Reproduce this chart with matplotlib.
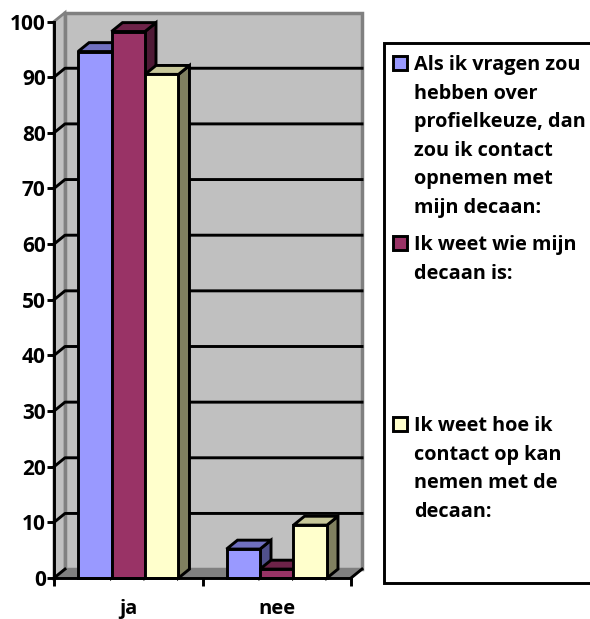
import matplotlib
matplotlib.use("Agg")
import matplotlib.pyplot as plt
from matplotlib.patches import Polygon, Rectangle

categories = ["ja", "nee"]
vragen = [94.6, 5.2]
wie = [98.2, 1.6]
hoe = [90.5, 9.5]
y_ticks = [0, 10, 20, 30, 40, 50, 60, 70, 80, 90, 100]

legend_labels = [
    "Als ik vragen zou\nhebben over\nprofielkeuze, dan\nzou ik contact\nopnemen met\nmijn decaan:",
    "Ik weet wie mijn\ndecaan is:",
    "Ik weet hoe ik\ncontact op kan\nnemen met de\ndecaan:",
]

front_colors = ["#9999ff", "#993366", "#ffffcc"]
top_colors = ["#7070c0", "#6e2349", "#c8c89a"]
side_colors = ["#50508c", "#4f1a36", "#808060"]

W, H = 590, 619
LW = 2.1
plt.rcParams["font.family"] = ["Open Sans", "DejaVu Sans"]
plt.rcParams["font.weight"] = "bold"

fig = plt.figure(figsize=(W / 100, H / 100), dpi=100)
ax = fig.add_axes([54 / W, 1 - 578 / H, (351 - 54) / W, (578 - 21.5) / H])
ax.set_xlim(-0.5, 1.5)
ax.set_ylim(0, 100)
ax.patch.set_visible(False)

# schuine diepte van de 3D look, in data eenheden
dx = 11 / 148.5
dy = 1.6
bar_w = 0.2255

# wanden
ax.add_patch(Polygon([(-0.5 + dx, dy), (1.5 + dx, dy), (1.5 + dx, 100 + dy), (-0.5 + dx, 100 + dy)],
                     closed=True, facecolor="#c0c0c0", edgecolor="#808080", lw=2.5, clip_on=False, zorder=1))
ax.add_patch(Polygon([(-0.5, 0), (-0.5 + dx, dy), (-0.5 + dx, 100 + dy), (-0.5, 100)],
                     closed=True, facecolor="#c0c0c0", edgecolor="#808080", lw=2, clip_on=False, zorder=1))
ax.add_patch(Polygon([(-0.5, 0), (1.5, 0), (1.5 + dx, dy), (-0.5 + dx, dy)],
                     closed=True, facecolor="#808080", edgecolor="#808080", lw=1, clip_on=False, zorder=1.5))

for t in y_ticks[1:-1]:
    ax.plot([-0.5, -0.5 + dx, 1.5 + dx], [t, t + dy, t + dy], color="black", lw=LW, clip_on=False, zorder=2)
ax.plot([1.5, 1.5 + dx], [0, dy], color="black", lw=LW, clip_on=False, zorder=2)
ax.plot([-0.5, -0.5 + dx], [0, dy], color="black", lw=LW, clip_on=False, zorder=2)

series = [vragen, wie, hoe]
for i, vals in enumerate(series):
    for j, v in enumerate(vals):
        x0 = j - 1.5 * bar_w + i * bar_w
        x1 = x0 + bar_w
        z = 3 + i + 3 * j
        ax.add_patch(Polygon([(x1, 0), (x1 + dx, dy), (x1 + dx, v + dy), (x1, v)], closed=True,
                             facecolor=side_colors[i], edgecolor="black", lw=LW, clip_on=False, zorder=z))
        ax.add_patch(Polygon([(x0, v), (x1, v), (x1 + dx, v + dy), (x0 + dx, v + dy)], closed=True,
                             facecolor=top_colors[i], edgecolor="black", lw=LW, clip_on=False, zorder=z))
        ax.bar(x0, v, width=bar_w, align="edge", color=front_colors[i], edgecolor="black",
               linewidth=LW, clip_on=False, zorder=z + 0.1)

for s in ["top", "right"]:
    ax.spines[s].set_visible(False)
ax.spines["left"].set_linewidth(LW)
ax.spines["bottom"].set_linewidth(LW)
ax.spines["left"].set_zorder(20)
ax.spines["bottom"].set_zorder(20)

ax.set_yticks(y_ticks)
ax.set_xticks([-0.5, 0.5, 1.5])
ax.set_xticklabels([])
ax.tick_params(axis="y", length=5, width=LW, pad=1, labelsize=15)
ax.tick_params(axis="x", length=6, width=LW)
for j, c in enumerate(categories):
    ax.text(j, -5.5, c, ha="center", va="center", fontsize=14.5, clip_on=False)

# legenda
fig.add_artist(Rectangle((384 / W, 1 - 583 / H), (W + 5 - 384) / W, (583 - 43) / H, transform=fig.transFigure,
                         facecolor="white", edgecolor="black", lw=LW))
legend_tops = [55, 235, 416]
swatch_tops = [56, 236, 417]
for i, lab in enumerate(legend_labels):
    fig.add_artist(Rectangle((392.5 / W, 1 - (swatch_tops[i] + 14) / H), 14 / W, 14 / H, transform=fig.transFigure,
                             facecolor=front_colors[i], edgecolor="black", lw=LW))
    fig.text(414 / W, 1 - legend_tops[i] / H, lab, ha="left", va="top", fontsize=14.3, linespacing=1.57)

fig.savefig("out.png", dpi=100)
